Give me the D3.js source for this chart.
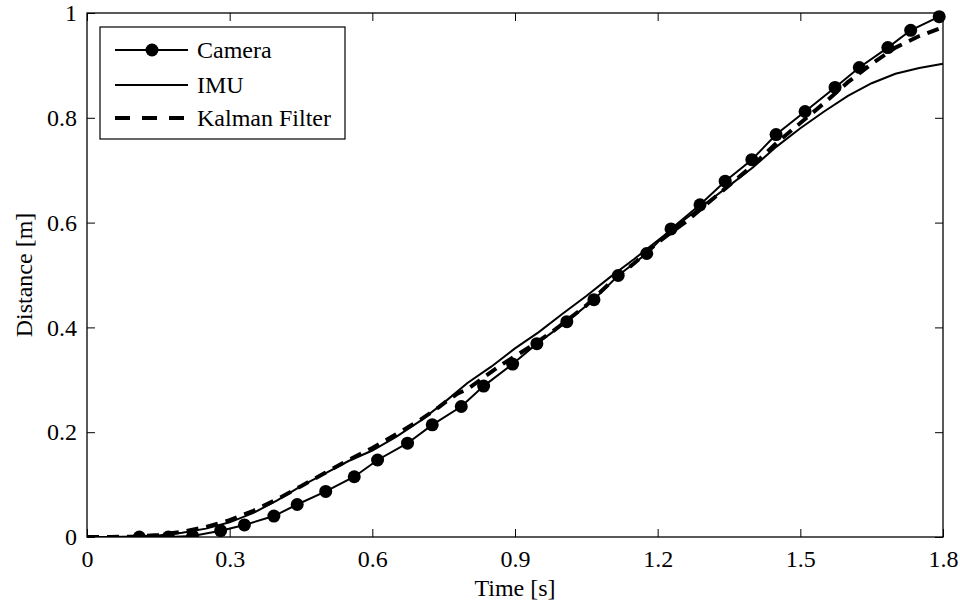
<!DOCTYPE html>
<html><head><meta charset="utf-8">
<script src="https://cdn.jsdelivr.net/npm/d3@7"></script>
<style>body{margin:0;background:#fff}svg{display:block}text{font-family:"Liberation Serif","Times New Roman",serif;fill:#000}</style>
</head><body><svg id="c" width="960" height="604"></svg>
<script>
const cameraT = [0.110,0.171,0.222,0.281,0.331,0.393,0.442,0.502,0.562,0.611,0.674,0.726,0.787,0.834,0.895,0.946,1.009,1.066,1.117,1.177,1.228,1.289,1.342,1.398,1.449,1.510,1.573,1.624,1.684,1.732,1.792];
const cameraD = [0.000,0.000,0.002,0.012,0.023,0.040,0.062,0.087,0.115,0.147,0.179,0.214,0.249,0.288,0.330,0.369,0.411,0.453,0.499,0.541,0.588,0.634,0.679,0.720,0.768,0.812,0.858,0.896,0.934,0.967,0.993];
const imuT = [0,0.05,0.1,0.15,0.2,0.25,0.3,0.35,0.4,0.45,0.5,0.55,0.6,0.65,0.7,0.75,0.8,0.85,0.9,0.95,1.0,1.05,1.1,1.15,1.2,1.25,1.3,1.35,1.4,1.45,1.5,1.55,1.6,1.65,1.7,1.75,1.8];
const imuD = [0,0,0.001,0.003,0.008,0.016,0.028,0.046,0.070,0.097,0.121,0.145,0.165,0.191,0.221,0.256,0.294,0.325,0.360,0.391,0.426,0.460,0.496,0.530,0.566,0.601,0.636,0.670,0.705,0.745,0.780,0.812,0.842,0.866,0.884,0.895,0.903];
const kalT = [0,0.05,0.1,0.15,0.2,0.25,0.3,0.35,0.4,0.45,0.5,0.55,0.6,0.65,0.7,0.74,0.76,0.78,0.8,0.83,0.87,0.93,0.98,1.05,1.1,1.15,1.2,1.26,1.3,1.35,1.4,1.45,1.5,1.55,1.6,1.65,1.7,1.75,1.8];
const kalD = [0,0,0.001,0.004,0.010,0.019,0.032,0.050,0.072,0.097,0.122,0.147,0.170,0.196,0.223,0.248,0.262,0.274,0.282,0.302,0.328,0.362,0.393,0.442,0.485,0.522,0.562,0.602,0.633,0.671,0.709,0.752,0.790,0.828,0.868,0.903,0.934,0.956,0.973];
const xTicks = [0,0.3,0.6,0.9,1.2,1.5,1.8];
const yTicks = [0,0.2,0.4,0.6,0.8,1];
const legendLabels = ["Camera","IMU","Kalman Filter"];

const svg = d3.select("#c");
const L=87, R=943, T=13, B=537, FS=24;
const x = d3.scaleLinear().domain([0,1.8]).range([L,R]);
const y = d3.scaleLinear().domain([0,1]).range([B,T]);
const fmt = d => d3.format("")(+d.toFixed(1));

svg.append("clipPath").attr("id","pc").append("rect").attr("x",L).attr("y",T-8).attr("width",R-L+8).attr("height",B-T+8);

const ax = (g)=>g.selectAll(".domain").remove();
svg.append("g").attr("transform",`translate(0,${B})`)
  .call(d3.axisBottom(x).tickValues(xTicks).tickSize(-8).tickPadding(13).tickFormat(fmt))
  .call(ax).call(g=>g.selectAll("line").attr("stroke","#000"))
  .call(g=>g.selectAll("text").attr("font-size",FS).attr("font-family","Liberation Serif"));
svg.append("g").attr("transform",`translate(0,${T})`)
  .call(d3.axisTop(x).tickValues(xTicks).tickSize(-8).tickFormat(""))
  .call(ax).call(g=>g.selectAll("line").attr("stroke","#000"));
svg.append("g").attr("transform",`translate(${L},0)`)
  .call(d3.axisLeft(y).tickValues(yTicks).tickSize(-8).tickPadding(10).tickFormat(fmt))
  .call(ax).call(g=>g.selectAll("line").attr("stroke","#000"))
  .call(g=>g.selectAll("text").attr("font-size",FS).attr("font-family","Liberation Serif"));
svg.append("g").attr("transform",`translate(${R},0)`)
  .call(d3.axisRight(y).tickValues(yTicks).tickSize(-8).tickFormat(""))
  .call(ax).call(g=>g.selectAll("line").attr("stroke","#000"));

const line = d3.line().x(d=>x(d[0])).y(d=>y(d[1]));
const plot = svg.append("g").attr("clip-path","url(#pc)");
const imu = imuT.map((t,i)=>[t,imuD[i]]);
const kal = kalT.map((t,i)=>[t,kalD[i]]);
const cam = cameraT.map((t,i)=>[t,cameraD[i]]);
plot.append("path").attr("d",line(imu)).attr("fill","none").attr("stroke","#000").attr("stroke-width",2);
plot.append("path").attr("d",line(kal)).attr("fill","none").attr("stroke","#000").attr("stroke-width",4).attr("stroke-dasharray","12,8");
plot.append("path").attr("d",line(cam)).attr("fill","none").attr("stroke","#000").attr("stroke-width",2);
plot.selectAll("circle").data(cam).join("circle").attr("cx",d=>x(d[0])).attr("cy",d=>y(d[1])).attr("r",6.5).attr("fill","#000");

svg.append("rect").attr("x",L).attr("y",T).attr("width",R-L).attr("height",B-T).attr("fill","none").attr("stroke","#000").attr("stroke-width",1.3);

const lg = svg.append("g");
lg.append("rect").attr("x",100).attr("y",27).attr("width",245).attr("height",112).attr("fill","#fff").attr("stroke","#000").attr("stroke-width",1.2);
const ly = [50,85,118];
legendLabels.forEach((lab,i)=>{
  const p = lg.append("line").attr("x1",115).attr("x2",188).attr("y1",ly[i]).attr("y2",ly[i]).attr("stroke","#000");
  if(i===2) p.attr("stroke-width",4).attr("stroke-dasharray","15,12");
  else p.attr("stroke-width",2);
  if(i===0) lg.append("circle").attr("cx",152).attr("cy",ly[i]).attr("r",6.5).attr("fill","#000");
  lg.append("text").attr("x",197).attr("y",ly[i]+8).attr("font-size",FS).text(lab);
});

svg.append("text").attr("x",(L+R)/2).attr("y",596).attr("text-anchor","middle").attr("font-size",FS).text("Time [s]");
svg.append("text").attr("transform","translate(32,275) rotate(-90)").attr("text-anchor","middle").attr("font-size",FS).text("Distance [m]");
</script></body></html>
